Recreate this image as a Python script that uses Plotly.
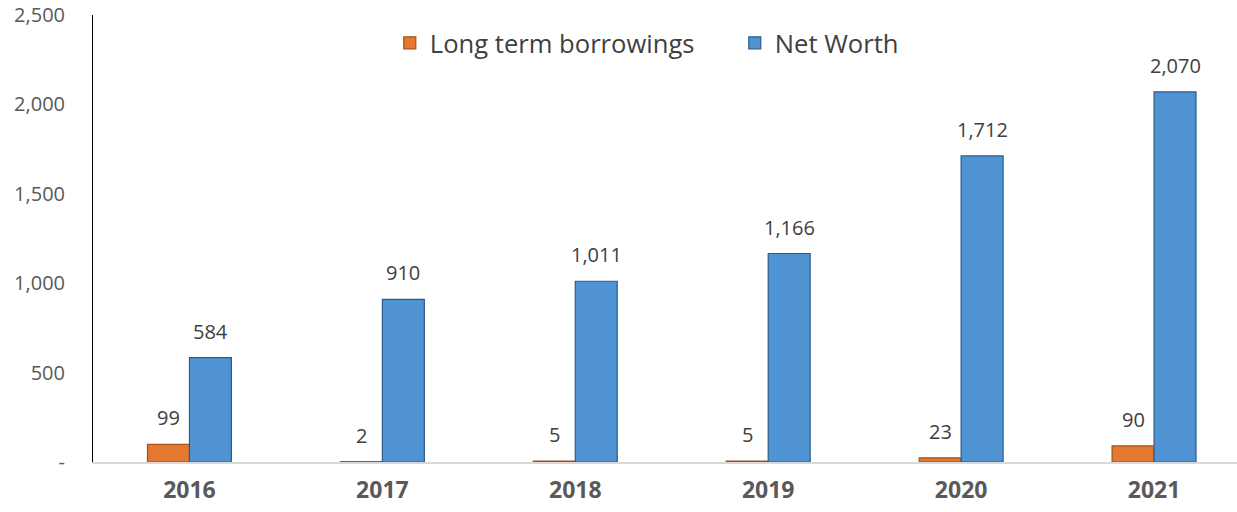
import plotly.graph_objects as go

years = ["2016", "2017", "2018", "2019", "2020", "2021"]
long_term_borrowings = [99, 2, 5, 5, 23, 90]
net_worth = [584, 910, 1011, 1166, 1712, 2070]
y_tick_vals = [0, 500, 1000, 1500, 2000, 2500]
y_tick_text = ["-", "500", "1,000", "1,500", "2,000", "2,500"]

FONT = "Open Sans"
ORANGE = "#E4782F"
BLUE = "#4F93D2"

fig = go.Figure()
fig.add_trace(go.Bar(
    x=years, y=long_term_borrowings, name="Long term borrowings",
    marker=dict(color=ORANGE, line=dict(color="#A44F17", width=1.2)),
))
fig.add_trace(go.Bar(
    x=years, y=net_worth, name="Net Worth",
    marker=dict(color=BLUE, line=dict(color="#2B5C8C", width=1.2)),
))

annotations = []
for i, v in enumerate(long_term_borrowings):
    annotations.append(dict(x=i, y=v, xref="x", yref="y", text=f"{v:,}",
                            showarrow=False, xshift=-21, yshift=11, yanchor="bottom",
                            font=dict(family=FONT, size=20, color="#404040")))
for i, v in enumerate(net_worth):
    annotations.append(dict(x=i, y=v, xref="x", yref="y", text=f"{v:,}",
                            showarrow=False, xshift=21, yshift=11, yanchor="bottom",
                            font=dict(family=FONT, size=20, color="#404040")))

fig.update_layout(
    width=1237, height=512,
    margin=dict(l=93, r=0, t=15, b=50),
    paper_bgcolor="white", plot_bgcolor="white",
    barmode="group", bargap=0.565, bargroupgap=0,
    font=dict(family=FONT, color="#404040"),
    showlegend=True,
    legend=dict(orientation="h", x=0.561, xanchor="center", y=0.937, yanchor="middle",
                font=dict(family=FONT, size=25.6, color="#404040"),
                itemwidth=30, entrywidth=300, entrywidthmode="pixels",
                bgcolor="rgba(0,0,0,0)"),
    annotations=annotations,
    xaxis=dict(type="category", range=[-0.5, 5.43], showgrid=False, showline=True,
               linecolor="#D9D9D9", linewidth=1.5, ticks="",
               tickfont=dict(family=FONT, size=23, color="#595959", weight="bold"),
               ticklabelstandoff=7),
    yaxis=dict(range=[0, 2500], tickvals=y_tick_vals, ticktext=y_tick_text, showgrid=False,
               zeroline=False, showline=True, linecolor="#000000", linewidth=1, ticks="",
               ticklabelstandoff=23, ticklabeloverflow="allow",
               tickfont=dict(family=FONT, size=20, color="#595959")),
)

fig.write_html("out.html", config={"displayModeBar": False},
               post_script="document.body.style.margin='0';")
